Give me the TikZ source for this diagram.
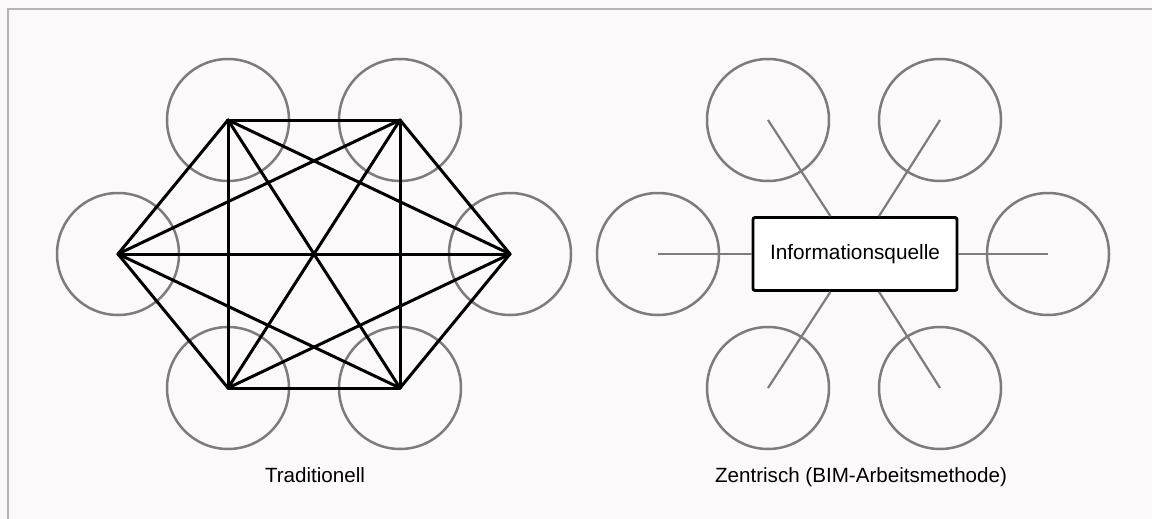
\documentclass[tikz,border=0pt]{standalone}
\usepackage{fontspec}
\setmainfont{Liberation Sans}
\definecolor{paper}{HTML}{FCF9FB}
\definecolor{ringgray}{HTML}{7C7C7C}
\definecolor{framegray}{HTML}{B4B4B4}
\begin{document}
\begin{tikzpicture}[x=1pt,y=-1pt,
  ring/.style={circle,draw=ringgray,line width=2.5pt,minimum size=122pt,inner sep=0pt},
  link/.style={line width=3pt,black,line cap=round},
  spoke/.style={draw=ringgray,line width=2.2pt},
  hubbox/.style={draw=black,line width=2.8pt,rounded corners=2pt,fill=white,
    minimum width=204pt,minimum height=73pt,inner sep=0pt,font=\fontsize{20.8pt}{24pt}\selectfont},
  caption/.style={font=\fontsize{20.6pt}{24pt}\selectfont,inner sep=0pt}]
  % page and frame
  \fill[paper] (0,0) rectangle (1152,519);
  \useasboundingbox (0,0) rectangle (1152,519);
  \draw[framegray,line width=2pt] (8,519) -- (8,9) -- (1152,9);

  % traditional network: every party linked to every other
  \node[ring] (t1) at (118,254) {};
  \node[ring] (t2) at (228,120) {};
  \node[ring] (t3) at (400,120) {};
  \node[ring] (t4) at (510,254) {};
  \node[ring] (t5) at (400,388) {};
  \node[ring] (t6) at (228,388) {};
  \foreach \a/\b in {t1/t2,t1/t3,t1/t4,t1/t5,t1/t6,
                     t2/t3,t2/t4,t2/t5,t2/t6,
                     t3/t4,t3/t5,t3/t6,
                     t4/t5,t4/t6,
                     t5/t6}
    \draw[link] (\a.center) -- (\b.center);
  \node[caption] (tcap) at (315,475) {Traditionell};

  % central information source
  \node[hubbox] (hub) at (855,254) {Informationsquelle};
  \node[ring] (z1) at (658,254) {};
  \node[ring] (z2) at (768,120) {};
  \node[ring] (z3) at (940,120) {};
  \node[ring] (z4) at (1048,254) {};
  \node[ring] (z5) at (940,388) {};
  \node[ring] (z6) at (768,388) {};
  \foreach \z in {z1,z2,z3,z4,z5,z6}
    \draw[spoke] (\z.center) -- (hub);
  \node[caption] (zcap) at (861,477) {Zentrisch (BIM-Arbeitsmethode)};
\end{tikzpicture}
\end{document}
